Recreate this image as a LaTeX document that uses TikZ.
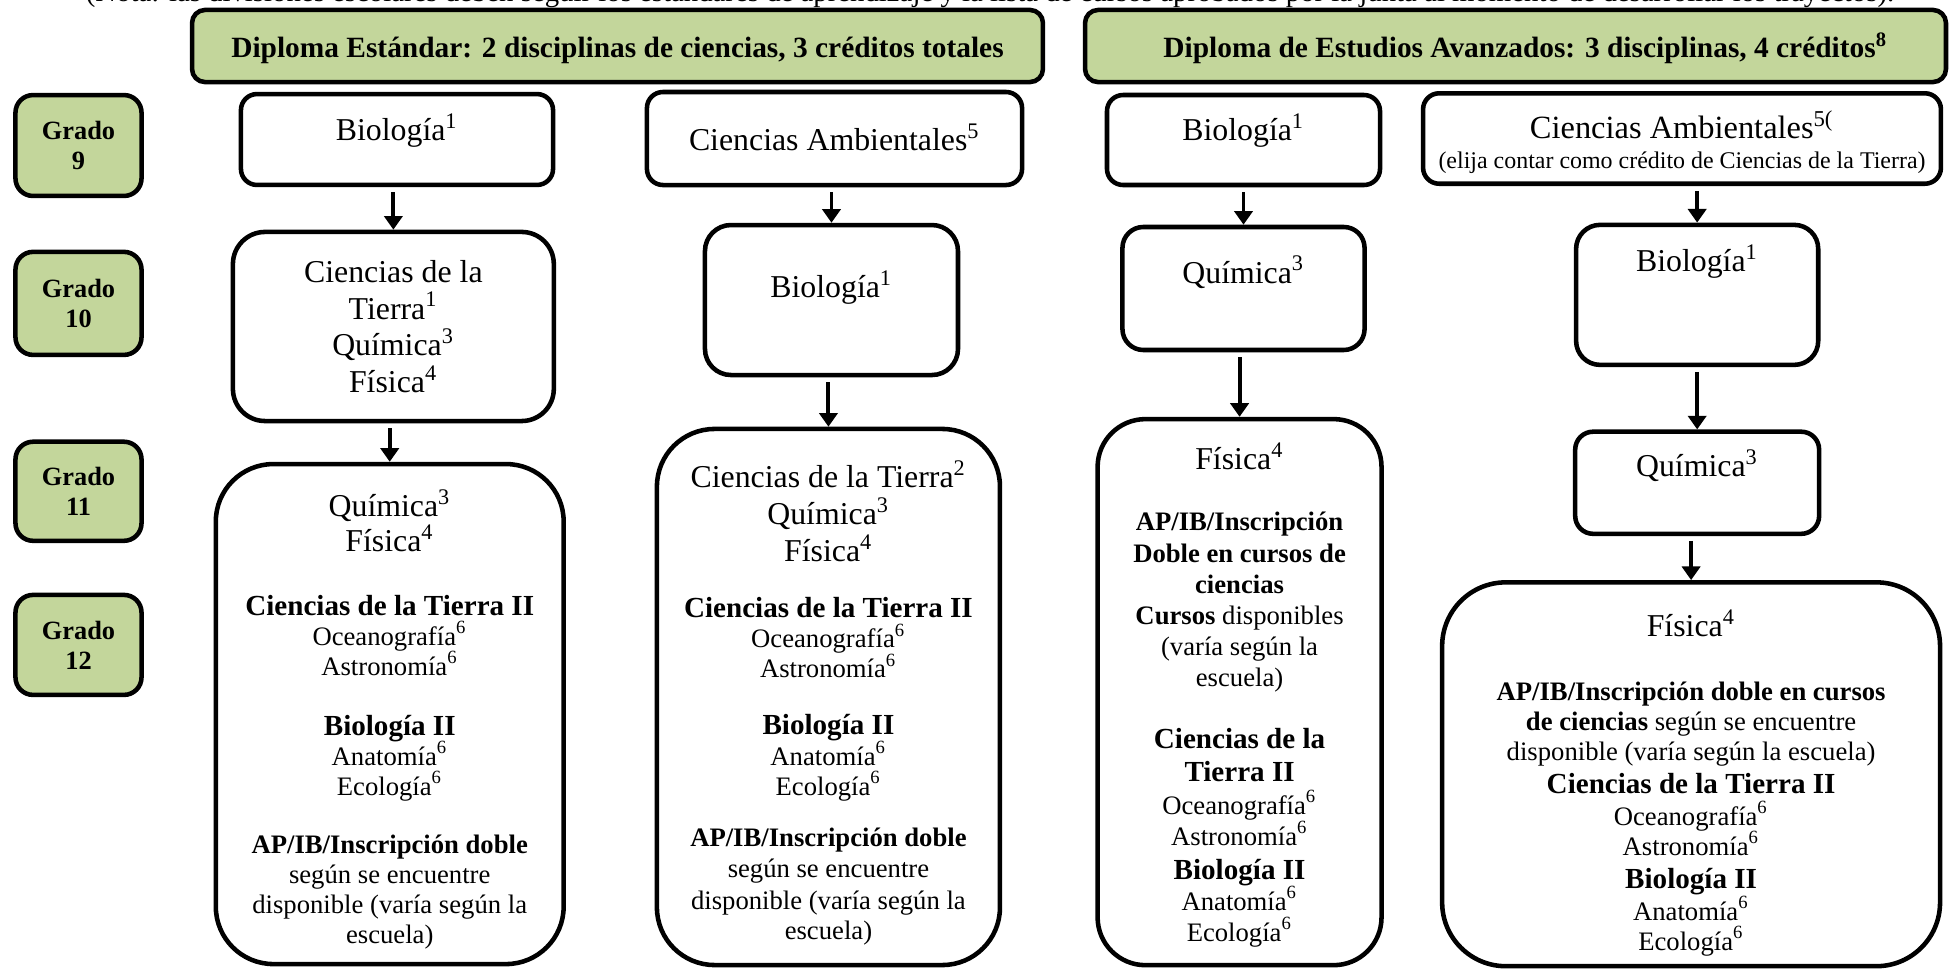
\documentclass[tikz,border=0pt]{standalone}
\usepackage{fontspec}
\setmainfont{Liberation Serif}
\usepackage{tikz}
\usetikzlibrary{arrows.meta}
\usetikzlibrary{positioning}
\usepackage{xcolor}
\definecolor{gradegreen}{RGB}{195,214,155}
\setlength{\lineskiplimit}{-100pt}

\newcommand{\ctitle}{\fontsize{10.5}{12.1}\selectfont}
\newcommand{\chead}{\fontsize{9.6}{10.2}\selectfont\bfseries}
\newcommand{\cnote}{\fontsize{8.8}{9.9}\selectfont}

\begin{document}
\begin{tikzpicture}[x=0.33pt, y=0.33pt, ->, >={Triangle[width=6pt,length=4.5pt]}, line width=1.3pt, shorten <=1.6pt]
\tikzstyle{course} = [draw=black, text=black, line width=1.5pt, align=center, font=\cnote]
\tikzstyle{grade} = [course, fill=gradegreen, font=\fontsize{8.7}{9.9}\selectfont\bfseries, minimum width=41.6pt, rounded corners=5.8pt]
\tikzstyle{diploma} = [course, fill=gradegreen, font=\fontsize{9.7}{11}\selectfont\bfseries, minimum height=23.8pt, rounded corners=4.3pt, text height=9.9pt, text depth=2pt]

\useasboundingbox (0,0) rectangle (1956,-969);

\node[font=\fontsize{9.5}{10}\selectfont, anchor=base] (nota) at (990,-1) {(Nota: las divisiones escolares deben seguir los estándares de aprendizaje y la lista de cursos aprobados por la junta al momento de desarrollar los trayectos).};

% diplomas
\node[diploma, minimum width=280.8pt] (std) at (617.5,-46) {Diploma Estándar: 2 disciplinas de ciencias, 3 créditos totales};
\node[diploma, minimum width=284.1pt] (adv) at (1515.5,-46) {\hspace*{6.6pt}Diploma de Estudios Avanzados: 3 disciplinas, 4 créditos\textsuperscript{8}};

% grades
\node[grade, minimum height=33.3pt] (g9) at (78.5,-145.5) {Grado\\9};
\node[grade, minimum height=34pt] (g10) [below of=g9, node distance=52.1pt] {Grado\\10};
\node[grade, minimum height=32.7pt] (g11) [below of=g10, node distance=62pt] {Grado\\11};
\node[grade, minimum height=33pt] (g12) [below of=g11, node distance=50.7pt] {Grado\\12};

% standard, first path
\node[course, font=\ctitle, minimum width=103pt, minimum height=30pt, rounded corners=5.3pt, text height=8pt, text depth=7.6pt] (bioA) at (397,-139.5) {Biología\textsuperscript{1}};
\node[course, font=\ctitle, minimum width=105.9pt, minimum height=62.4pt, rounded corners=10.6pt] (tierraA) [below of=bioA, node distance=61.7pt, xshift=-1.2pt] {Ciencias de la\\Tierra\textsuperscript{1}\\Química\textsuperscript{3}\\Física\textsuperscript{4}};
\node[course, minimum width=114.8pt, minimum height=165pt, rounded corners=19pt] (quimA) [below of=tierraA, node distance=127.9pt, xshift=-1.2pt]
  {\mbox{}\\[2.6pt]
   {\ctitle Química\textsuperscript{3}}\\[1.65pt]
   {\ctitle Física\textsuperscript{4}}\\[11.1pt]
   {\chead Ciencias de la Tierra II}\\
   Oceanografía\textsuperscript{6}\\
   Astronomía\textsuperscript{6}\\[9.9pt]
   {\chead Biología II}\\
   Anatomía\textsuperscript{6}\\
   Ecología\textsuperscript{6}\\[9.25pt]
   \textbf{AP/IB/Inscripción doble}\\
   según se encuentre\\
   disponible (varía según la\\
   escuela)};

% standard, second path
\node[course, font=\ctitle, minimum width=123.8pt, minimum height=30.7pt, rounded corners=5.3pt, text height=8pt, text depth=0pt] (ambB) at (834.5,-138.5) {Ciencias Ambientales\textsuperscript{5}};
\node[course, font=\ctitle, minimum width=83.5pt, minimum height=49.5pt, rounded corners=8.6pt, text height=8pt, text depth=9.9pt] (bioB) [below of=ambB, node distance=53.3pt, xshift=-1pt] {Biología\textsuperscript{1}};
\node[course, minimum width=113.2pt, minimum height=176.9pt, rounded corners=19pt] (tierraB) [below of=bioB, node distance=131pt, xshift=-1pt]
  {\mbox{}\\[2.9pt]
   {\ctitle Ciencias de la Tierra\textsuperscript{2}}\\[2.1pt]
   {\ctitle Química\textsuperscript{3}}\\[2.25pt]
   {\ctitle Física\textsuperscript{4}}\\[8.85pt]
   {\chead Ciencias de la Tierra II}\\
   Oceanografía\textsuperscript{6}\\
   Astronomía\textsuperscript{6}\\[8.7pt]
   {\chead Biología II}\\[0.4pt]
   Anatomía\textsuperscript{6}\\
   Ecología\textsuperscript{6}\\[7pt]
   \textbf{AP/IB/Inscripción doble}\\[0.4pt]
   según se encuentre\\[0.4pt]
   disponible (varía según la\\
   escuela)};

% advanced, first path
\node[course, font=\ctitle, minimum width=90.1pt, minimum height=29.7pt, rounded corners=5.3pt, text height=8pt, text depth=7.9pt] (bioC) at (1243.5,-140) {Biología\textsuperscript{1}};
\node[course, font=\ctitle, minimum width=79.9pt, minimum height=40.6pt, rounded corners=6.9pt, text height=8pt, text depth=11.6pt] (quimC) [below of=bioC, node distance=49pt] {Química\textsuperscript{3}};
\node[course, font=\fontsize{8.8}{10.3}\selectfont, minimum width=93.7pt, minimum height=180.2pt, rounded corners=15.8pt] (fisC) [below of=quimC, node distance=133.2pt, xshift=-1.3pt]
  {\mbox{}\\[0.5pt]
   {\ctitle Física\textsuperscript{4}}\\[9.9pt]
   \textbf{AP/IB/Inscripción}\\
   \textbf{Doble en cursos de}\\
   \textbf{ciencias}\\
   \textbf{Cursos} disponibles\\
   (varía según la\\
   escuela)\\[9.9pt]
   {\chead Ciencias de la}\\[0.8pt]
   {\chead Tierra II}\\[0.4pt]
   Oceanografía\textsuperscript{6}\\
   Astronomía\textsuperscript{6}\\[0.8pt]
   {\chead Biología II}\\
   Anatomía\textsuperscript{6}\\
   Ecología\textsuperscript{6}};

% advanced, second path
\node[course, font=\fontsize{7.9}{9.9}\selectfont, minimum width=170.9pt, minimum height=29.4pt, rounded corners=5.3pt] (ambD) at (1682,-138.5)
  {\mbox{}\\[1.7pt]{\fontsize{10.7}{12}\selectfont Ciencias Ambientales\textsuperscript{5(}}\\(elija contar como crédito de Ciencias de la Tierra)};
\node[course, font=\ctitle, minimum width=79.9pt, minimum height=46.2pt, rounded corners=7.9pt, text height=8pt, text depth=23.1pt] (bioD) [below of=ambD, node distance=51.6pt, xshift=5pt] {Biología\textsuperscript{1}};
\node[course, font=\ctitle, minimum width=80.5pt, minimum height=33.7pt, rounded corners=5.9pt, text height=8pt, text depth=11.9pt] (quimD) [below of=bioD, node distance=62pt] {Química\textsuperscript{3}};
\node[course, minimum width=164.3pt, minimum height=125.7pt, rounded corners=21pt] (fisD) [below of=quimD, node distance=96.2pt, xshift=-2pt]
  {\mbox{}\\[4.5pt]
   {\ctitle Física\textsuperscript{4}}\\[11.2pt]
   \textbf{AP/IB/Inscripción doble en cursos}\\
   \textbf{de ciencias} según se encuentre\\
   disponible (varía según la escuela)\\[1pt]
   {\chead Ciencias de la Tierra II}\\[0.7pt]
   Oceanografía\textsuperscript{6}\\
   Astronomía\textsuperscript{6}\\[1pt]
   {\chead Biología II}\\[0.7pt]
   Anatomía\textsuperscript{6}\\
   Ecología\textsuperscript{6}};

\path (bioA.south -| tierraA) edge (tierraA)
      (tierraA.south -| quimA) edge (quimA)
      (ambB.south -| bioB) edge (bioB)
      (bioB.south -| tierraB) edge (tierraB)
      (bioC.south -| quimC) edge (quimC)
      (quimC.south -| fisC) edge (fisC)
      (ambD.south -| bioD) edge (bioD)
      (bioD.south -| quimD) edge (quimD)
      (quimD.south -| fisD) edge (fisD);

\end{tikzpicture}
\end{document}
